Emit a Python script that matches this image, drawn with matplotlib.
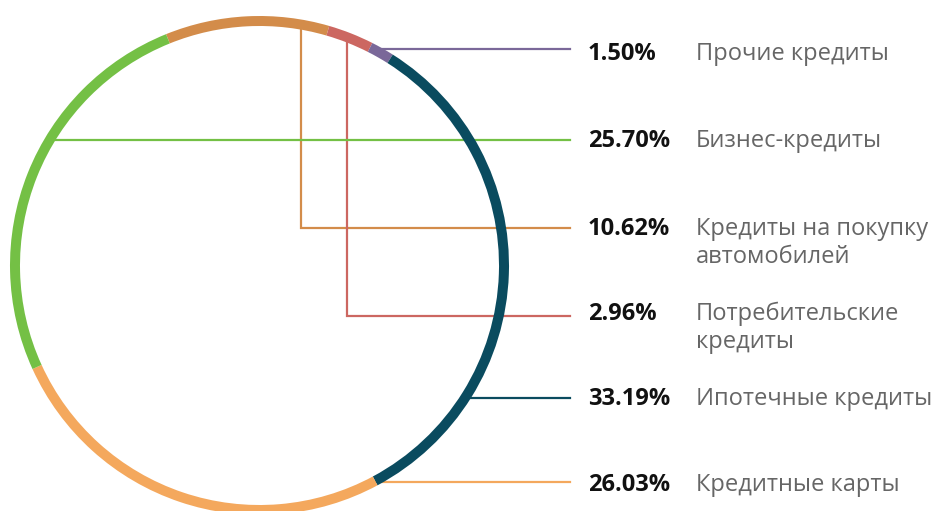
import numpy as np
import matplotlib
matplotlib.use("Agg")
import matplotlib.pyplot as plt

# ---- data (clockwise order starting near top-left) ----
categories = ["Кредиты на покупку\nавтомобилей", "Потребительские\nкредиты", "Прочие кредиты",
              "Ипотечные кредиты", "Кредитные карты", "Бизнес-кредиты"]
shares = [10.62, 2.96, 1.50, 33.19, 26.03, 25.70]
colors = ["#d38c4a", "#cc6761", "#7a6899", "#0a4b5f", "#f4a85d", "#74c045"]

# ---- layout (pixel space, y measured from top) ----
W, H = 934, 511
CX, CY = 259.5, 265.5
R_OUT, RING_W = 249.5, 10.0
R_MID = R_OUT - RING_W / 2
label_y = [228, 316, 49, 398, 482, 140]          # row of each label
text_dy = [-2, -5, 2, -2, 0, -2]                 # small per-row text offset
drop_x = [301, 347, None, None, None, None]      # vertical drop for top slices
side = [1, 1, 1, 1, 1, -1]                       # side of ring where horizontal line starts
LINE_END = 570
PCT_X, CAT_X = 588, 696

fig = plt.figure(figsize=(W / 100, H / 100), dpi=100)
ax = fig.add_axes([0, 0, 1, 1])

def fy(y):
    return H - y

ax.pie(shares, colors=colors, startangle=112, counterclock=False,
       radius=R_OUT, center=(CX, fy(CY)),
       wedgeprops=dict(width=RING_W, linewidth=0, zorder=3), frame=True)
ax.set_xlim(0, W)
ax.set_ylim(0, H)
ax.set_aspect("equal")
ax.axis("off")

for i, (cat, val, col) in enumerate(zip(categories, shares, colors)):
    ly = label_y[i]
    if drop_x[i] is not None:
        x0 = drop_x[i]
        y_top = CY - np.sqrt(R_MID ** 2 - (x0 - CX) ** 2)
        ax.plot([x0, x0, LINE_END], [fy(y_top), fy(ly), fy(ly)], color=col, lw=1.6,
                solid_joinstyle="miter", zorder=2)
    else:
        dx = np.sqrt(R_MID ** 2 - (ly - CY) ** 2)
        x0 = CX + side[i] * dx
        ax.plot([x0, LINE_END], [fy(ly), fy(ly)], color=col, lw=1.6, zorder=2)
    ty = ly + text_dy[i]
    ax.text(PCT_X, fy(ty), f"{val:.2f}%", fontsize=17, fontweight="bold",
            family="Open Sans", color="#111111", ha="left", va="center_baseline")
    lines = cat.split("\n")
    for k, t in enumerate(lines):
        ax.text(CAT_X, fy(ty + k * 28), t, fontsize=17, family="Open Sans",
                color="#666666", ha="left", va="center_baseline")

fig.savefig("out.png", dpi=100)
